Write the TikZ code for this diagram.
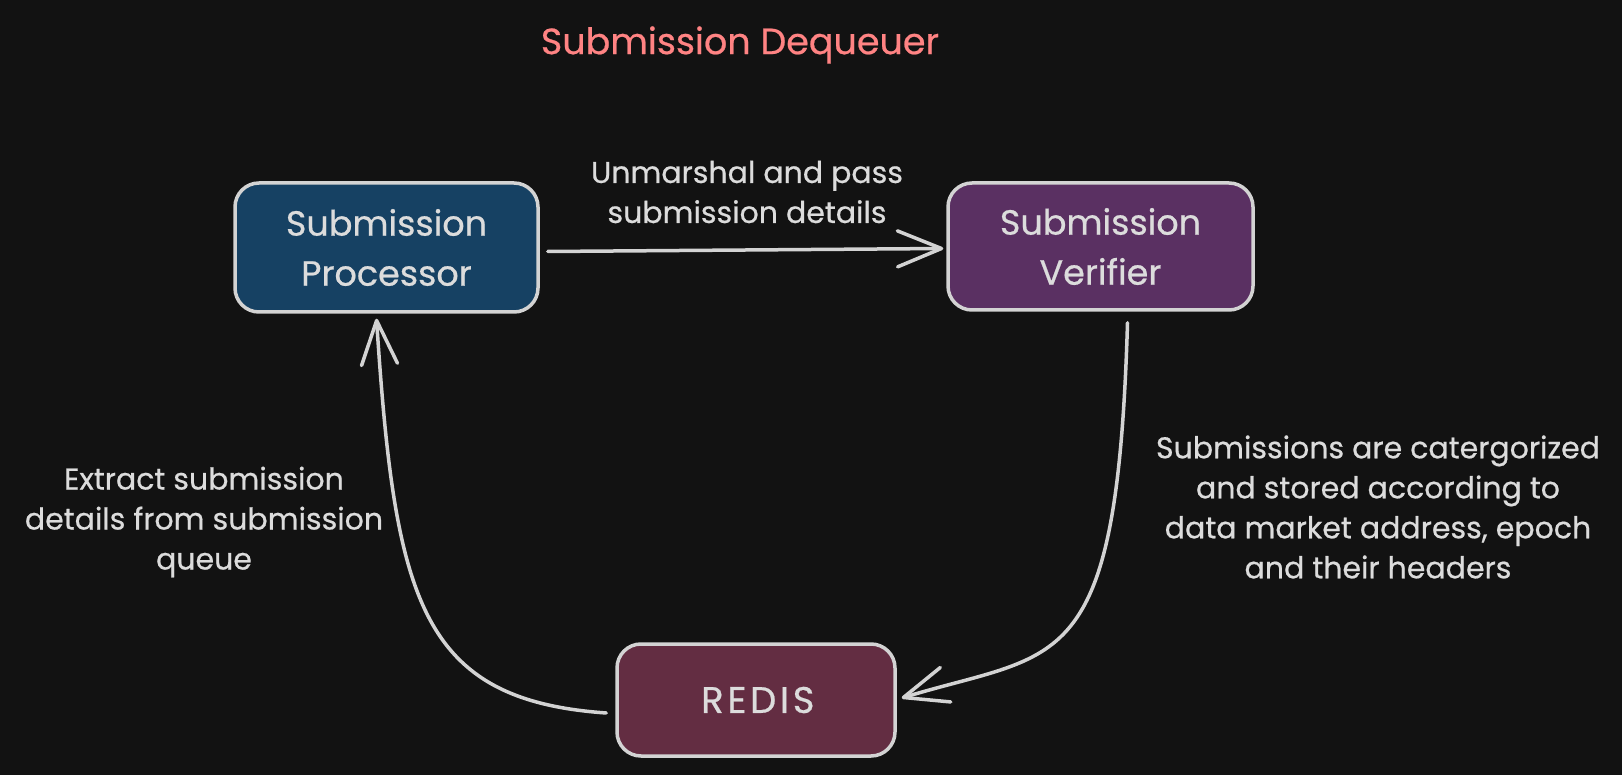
\documentclass[tikz,border=0pt]{standalone}
\usepackage{fontspec}
\setmainfont{Poppins}[FakeBold=0.6]
\usetikzlibrary{arrows.meta,calc}
\definecolor{bg}{HTML}{121212}
\definecolor{strk}{HTML}{D3D3D3}
\definecolor{fg}{HTML}{DCDCDC}
\definecolor{titlec}{HTML}{FF8383}
\definecolor{procfill}{HTML}{164163}
\definecolor{verfill}{HTML}{5A3062}
\definecolor{redfill}{HTML}{632D42}
\tikzset{
  boxnode/.style={draw=strk, line width=3.5pt, rounded corners=24pt, text=fg,
    align=center, inner sep=0pt, font=\fontsize{35}{50}\selectfont},
  lbl/.style={text=fg, align=center, inner sep=0pt, font=\fontsize{30}{40}\selectfont},
  conn/.style={draw=strk, line width=3.5pt, line cap=round,
    -{Straight Barb[length=44pt,width=36pt,line cap=round,line join=round]}},
}
\begin{document}
\begin{tikzpicture}[x=1pt,y=-1pt]
\fill[bg] (0,0) rectangle (1622,775);
\useasboundingbox (0,0) rectangle (1622,775);

\node[text=titlec, inner sep=0pt, font=\fontsize{36.5}{40}\selectfont] (title) at (740,45) {Submission Dequeuer};

\node[boxnode, fill=procfill, minimum width=303pt, minimum height=129pt] (P) at (386.5,247.5) {Submission\\Processor};
\node[boxnode, fill=verfill, minimum width=305pt, minimum height=127pt] (V) at (1100.5,246.5) {Submission\\Verifier};
\node[boxnode, fill=redfill, minimum width=278pt, minimum height=112pt, font=\fontsize{37}{50}\selectfont] (R) at (756,700) {\addfontfeature{LetterSpace=10}REDIS\hspace{-3.7pt}};

\node[lbl] (l1) at (747,192) {Unmarshal and pass\\submission details};
\node[lbl] (l2) at (204,522) {Extract submission\\details from submission\\queue};
\node[lbl] (l3) at (1378,507) {Submissions are catergorized\\and stored according to\\data market address, epoch\\and their headers};

\draw[conn] ($(P.east)+(8,4)$) -- ($(V.west)+(-3,2)$);
\draw[conn] ($(R.west)+(-9,13)$) .. controls (420,700) and (395,600) .. ($(P.south)+(-10,5)$);
\draw[conn] ($(V.south)+(27,11)$) .. controls (1117,680) and (1060,650) .. ($(R.east)+(5,-2)$);
\end{tikzpicture}
\end{document}
